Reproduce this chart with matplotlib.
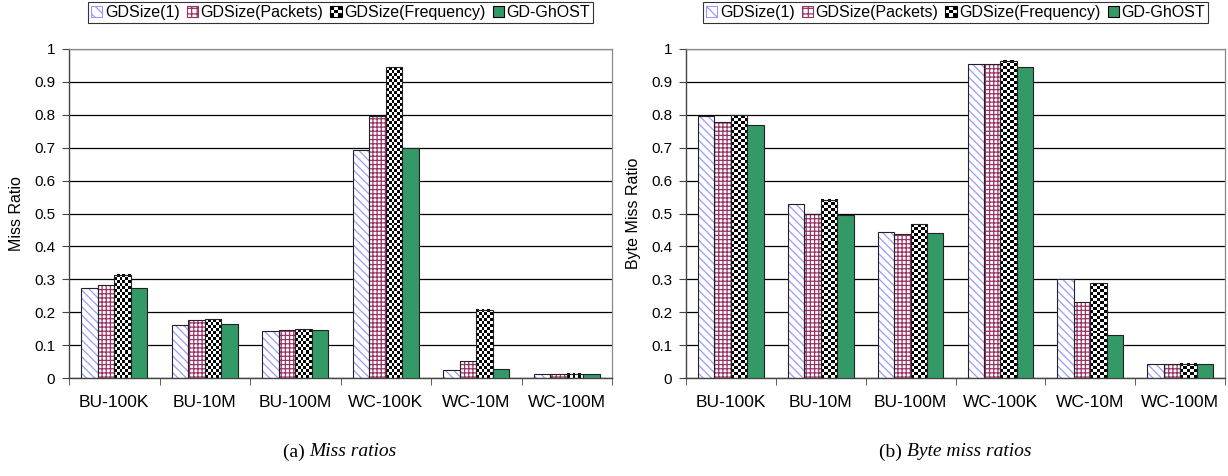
import numpy as np
import matplotlib
matplotlib.use("Agg")
import matplotlib.pyplot as plt
from matplotlib.patches import Patch, Rectangle
from matplotlib.legend_handler import HandlerBase

categories = ["BU-100K", "BU-10M", "BU-100M", "WC-100K", "WC-10M", "WC-100M"]
series = ["GDSize(1)", "GDSize(Packets)", "GDSize(Frequency)", "GD-GhOST"]

miss_gdsize1 = [0.275, 0.162, 0.142, 0.692, 0.023, 0.013]
miss_packets = [0.283, 0.177, 0.147, 0.795, 0.053, 0.013]
miss_freq = [0.314, 0.179, 0.148, 0.945, 0.207, 0.013]
miss_ghost = [0.275, 0.165, 0.145, 0.700, 0.027, 0.013]

byte_gdsize1 = [0.797, 0.528, 0.445, 0.955, 0.302, 0.043]
byte_packets = [0.778, 0.498, 0.438, 0.953, 0.232, 0.043]
byte_freq = [0.798, 0.542, 0.468, 0.965, 0.288, 0.043]
byte_ghost = [0.770, 0.494, 0.440, 0.946, 0.130, 0.043]

yticks = [0, 0.1, 0.2, 0.3, 0.4, 0.5, 0.6, 0.7, 0.8, 0.9, 1]
ytick_labels = ["0", "0.1", "0.2", "0.3", "0.4", "0.5", "0.6", "0.7", "0.8", "0.9", "1"]

plt.rcParams['font.family'] = ['Liberation Sans', 'DejaVu Sans']
plt.rcParams['hatch.linewidth'] = 0.9
FS_X = 12.5
FS_Y = 11.0
FS_LAB = 11.5
FS_LEG = 11.5

BLUE = '#9999ff'
PINK = '#993366'
GREEN = '#339966'
EDGE = '#222222'

fig = plt.figure(figsize=(12.28, 4.76), dpi=100)
axL = fig.add_axes([69/1228, 1-378/476, (612-69)/1228, 329/476])
axR = fig.add_axes([686/1228, 1-378/476, (1225-686)/1228, 329/476])

barw = 0.183
offsets = [-1.5*barw, -0.5*barw, 0.5*barw, 1.5*barw]


def checker(ax, x0, h, w):
    p0 = ax.transData.transform((x0, 0))
    p1 = ax.transData.transform((x0 + w, h))
    wpx = abs(p1[0]-p0[0]); hpx = abs(p1[1]-p0[1])
    cell = 3.0
    nx = max(1, int(round(wpx/cell)))
    ny = max(1, int(round(hpx/cell)))
    img = (np.add.outer(np.arange(ny), np.arange(nx)) % 2).astype(float)
    ax.imshow(img, extent=(x0, x0+w, 0, h), aspect='auto', cmap='gray',
              vmin=0, vmax=1, interpolation='nearest', zorder=2, origin='lower')


def draw(ax, data, ylabel):
    x = np.arange(len(categories))
    ax.set_xlim(-0.5, len(categories)-0.5)
    ax.set_ylim(0, 1)
    s1, s2, s3, s4 = data
    ax.bar(x+offsets[0], s1, barw, color='white', edgecolor=BLUE, hatch='\\\\\\\\', linewidth=0, zorder=2)
    ax.bar(x+offsets[0], s1, barw, color='none', edgecolor=EDGE, linewidth=0.8, zorder=3)
    ax.bar(x+offsets[1], s2, barw, color='white', edgecolor=PINK, hatch='++++', linewidth=0, zorder=2)
    ax.bar(x+offsets[1], s2, barw, color='none', edgecolor=EDGE, linewidth=0.8, zorder=3)
    for xi, v in zip(x, s3):
        checker(ax, xi+offsets[2]-barw/2, v, barw)
    ax.bar(x+offsets[2], s3, barw, color='none', edgecolor=EDGE, linewidth=0.8, zorder=3)
    ax.bar(x+offsets[3], s4, barw, color=GREEN, edgecolor=EDGE, linewidth=0.8, zorder=3)
    ax.set_xlim(-0.5, len(categories)-0.5)
    ax.set_ylim(0, 1)
    ax.set_yticks(yticks)
    ax.set_yticklabels(ytick_labels, fontsize=FS_Y)
    ax.set_xticks(x)
    ax.set_xticklabels(categories, fontsize=FS_X)
    ax.set_xticks(np.arange(len(categories)+1)-0.5, minor=True)
    ax.tick_params(axis='x', which='major', length=0, pad=12)
    ax.tick_params(axis='x', which='minor', length=5, direction='out', color='#444444')
    ax.tick_params(axis='y', length=5, direction='out', color='#444444', pad=5)
    ax.yaxis.grid(True, color='black', linewidth=0.9)
    ax.set_axisbelow(True)
    for side in ['top', 'right']:
        ax.spines[side].set_color('#888888')
        ax.spines[side].set_linewidth(0.9)
    for side in ['left', 'bottom']:
        ax.spines[side].set_color('#444444')
        ax.spines[side].set_linewidth(1.0)
    ax.set_ylabel(ylabel, fontsize=FS_LAB, labelpad=7)


draw(axL, (miss_gdsize1, miss_packets, miss_freq, miss_ghost), "Miss Ratio")
draw(axR, (byte_gdsize1, byte_packets, byte_freq, byte_ghost), "Byte Miss Ratio")


class HandlerChecker(HandlerBase):
    def create_artists(self, legend, orig_handle, xdescent, ydescent, width, height, fontsize, trans):
        s = height
        x0 = -xdescent + (width - s)/2
        y0 = -ydescent
        arts = [Rectangle((x0, y0), s, s, facecolor='white', edgecolor='none', transform=trans)]
        n = 3
        c = s/n
        for i in range(n):
            for j in range(n):
                if (i+j) % 2 == 0:
                    arts.append(Rectangle((x0+i*c, y0+j*c), c, c, facecolor='black', edgecolor='none', transform=trans))
        arts.append(Rectangle((x0, y0), s, s, facecolor='none', edgecolor='black', linewidth=0.8, transform=trans))
        return arts


def legend_handles():
    h1 = Patch(facecolor='white', edgecolor=BLUE, hatch='\\\\\\', linewidth=0.8)
    h2 = Patch(facecolor='white', edgecolor=PINK, hatch='+++', linewidth=0.8)
    h3 = Patch(facecolor='white', edgecolor='black')
    h4 = Patch(facecolor=GREEN, edgecolor='black', linewidth=0.8)
    return [h1, h2, h3, h4], {h3: HandlerChecker()}


for ax in (axL, axR):
    bb = ax.get_position()
    cx = (bb.x0 + bb.x1)/2
    hs, hm = legend_handles()
    leg = fig.legend(hs, series, loc='center', bbox_to_anchor=(cx, 1-12.5/476), ncol=4,
                     fontsize=FS_LEG, handlelength=0.7, handleheight=0.7, handletextpad=0.15,
                     columnspacing=0.45, borderpad=0.2, fancybox=False, frameon=True,
                     handler_map=hm, borderaxespad=0)
    leg.get_frame().set_edgecolor('black')
    leg.get_frame().set_linewidth(0.8)

serif = ['Liberation Serif', 'DejaVu Serif']
fig.canvas.draw()
renderer = fig.canvas.get_renderer()
for center, pre, body in ((340, "(a) ", "Miss ratios"), (955, "(b) ", "Byte miss ratios")):
    t1 = fig.text(0, 1-452/476, pre, fontsize=14, family=serif, ha='left', va='center')
    t2 = fig.text(0, 1-452/476, body, fontsize=14, family=serif, style='italic', ha='left', va='center')
    w1 = t1.get_window_extent(renderer).width
    w2 = t2.get_window_extent(renderer).width
    start = center - (w1 + w2)/2
    t1.set_x(start/1228)
    t2.set_x((start + w1)/1228)

fig.savefig("out.png", dpi=100)
